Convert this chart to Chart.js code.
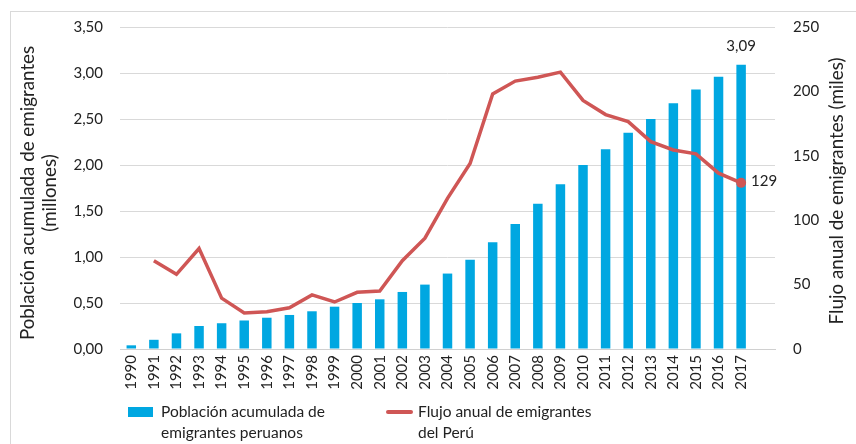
<!DOCTYPE html>
<html>
<head>
<meta charset="utf-8">
<script src="https://cdn.jsdelivr.net/npm/chart.js@4/dist/chart.umd.min.js"></script>
<style>
  html, body { margin: 0; padding: 0; background: #ffffff; }
  #wrap { position: relative; width: 856px; height: 444px; overflow: hidden; font-family: Lato, "Open Sans", sans-serif; }
  canvas { position: absolute; left: 0; top: 0; }
  .leg { position: absolute; font-size: 15.5px; line-height: 21px; color: #222; }
  .sw { position: absolute; }
</style>
</head>
<body>
<div id="wrap">
  <canvas id="c" width="856" height="444"></canvas>
  <div class="sw" id="swBar" style="left:128px; top:407px; width:25px; height:10px; background:#00A7E1;"></div>
  <div class="leg" id="legBar" style="left:161px; top:401px;"></div>
  <div class="sw" id="swLine" style="left:386px; top:410px; width:27px; height:4px; border-radius:2px; background:#CF5655;"></div>
  <div class="leg" id="legLine" style="left:418px; top:401px;"></div>
</div>
<script>
// ---- Data ----
const years = ['1990','1991','1992','1993','1994','1995','1996','1997','1998','1999','2000','2001','2002','2003','2004','2005','2006','2007','2008','2009','2010','2011','2012','2013','2014','2015','2016','2017',''];
const poblacionAcumulada = [0.04,0.10,0.17,0.25,0.28,0.31,0.34,0.37,0.41,0.46,0.50,0.54,0.62,0.70,0.82,0.97,1.16,1.36,1.58,1.79,2.00,2.17,2.35,2.50,2.67,2.82,2.96,3.09,null];
const flujoAnual = [null,68.5,58,78,39.5,28,29,32,42,36.5,44,45,68.5,86,117,144,198,208,211,215,193,182,176.5,161,154.5,151.5,136.5,129,null];
const leftTicks = [0,0.5,1,1.5,2,2.5,3,3.5];
const rightTicks = [0,50,100,150,200,250];
const barLabel = ['Población acumulada de', 'emigrantes peruanos'];
const lineLabel = ['Flujo anual de emigrantes', 'del Perú'];
const leftTitle = ['Población acumulada de emigrantes', '(millones)'];
const rightTitle = 'Flujo anual de emigrantes (miles)';
const lastBarText = '3,09';
const lastLineText = '129';

// ---- Legend (HTML text) ----
document.getElementById('legBar').innerHTML = barLabel.join('<br>');
document.getElementById('legLine').innerHTML = lineLabel.join('<br>');

const FONT = 'Lato, "Open Sans", sans-serif';
const TXT = '#222222';
const BAR = '#00A7E1';
const LINE = '#CF5655';
const lastIdx = 27;

const extras = {
  id: 'extras',
  beforeDraw(chart) {
    const ctx = chart.ctx;
    ctx.save();
    ctx.strokeStyle = '#d9d9d9';
    ctx.lineWidth = 1;
    ctx.strokeRect(10.5, 11.5, 900, 500);
    ctx.restore();
  },
  afterDraw(chart) {
    const ctx = chart.ctx;
    const a = chart.chartArea;
    const cy = (a.top + a.bottom) / 2 + 5;
    ctx.save();
    ctx.fillStyle = TXT;
    ctx.font = '18.8px ' + FONT;
    ctx.textAlign = 'center';
    ctx.textBaseline = 'middle';
    // left title
    ctx.save();
    ctx.translate(28, cy);
    ctx.rotate(-Math.PI / 2);
    ctx.fillText(leftTitle[0], 0, 0);
    ctx.fillText(leftTitle[1], 0, 22);
    ctx.restore();
    // right title
    ctx.save();
    ctx.translate(837, cy - 2);
    ctx.rotate(-Math.PI / 2);
    ctx.fillText(rightTitle, 0, 0);
    ctx.restore();
    // data labels
    ctx.font = '15px ' + FONT;
    const bm = chart.getDatasetMeta(0).data[lastIdx];
    ctx.fillText(lastBarText, bm.x, bm.y - 19);
    const lm = chart.getDatasetMeta(1).data[lastIdx];
    ctx.textAlign = 'left';
    ctx.fillText(lastLineText, lm.x + 10, lm.y - 2);
    ctx.restore();
  }
};

new Chart(document.getElementById('c'), {
  data: {
    labels: years,
    datasets: [
      {
        type: 'bar',
        label: barLabel.join(' '),
        data: poblacionAcumulada,
        backgroundColor: BAR,
        yAxisID: 'y',
        categoryPercentage: 1,
        barPercentage: 0.42,
        order: 2
      },
      {
        type: 'line',
        label: lineLabel.join(' '),
        data: flujoAnual,
        borderColor: LINE,
        backgroundColor: LINE,
        borderWidth: 3.5,
        tension: 0,
        yAxisID: 'y1',
        pointRadius: c => c.dataIndex === lastIdx ? 5 : 0,
        pointBorderWidth: 0,
        order: 1
      }
    ]
  },
  options: {
    responsive: false,
    animation: false,
    layout: { padding: { top: 27, left: 0, right: 0, bottom: 0 } },
    plugins: { legend: { display: false }, tooltip: { enabled: false } },
    scales: {
      x: {
        offset: true,
        grid: { display: false, drawTicks: false },
        border: { color: '#d0d0d0', width: 1 },
        ticks: { color: TXT, font: { family: FONT, size: 15 }, minRotation: 90, maxRotation: 90, padding: 6, autoSkip: false },
        afterFit(s) { s.height = 95; }
      },
      y: {
        position: 'left',
        min: 0, max: 3.5,
        afterBuildTicks(s) { s.ticks = leftTicks.map(v => ({ value: v })); },
        grid: { color: '#d9d9d9', drawTicks: false },
        border: { display: false },
        ticks: { color: TXT, font: { family: FONT, size: 15 }, padding: 17, callback: v => v.toFixed(2).replace('.', ',') },
        afterFit(s) { s.width = 120; }
      },
      y1: {
        position: 'right',
        min: 0, max: 250,
        afterBuildTicks(s) { s.ticks = rightTicks.map(v => ({ value: v })); },
        grid: { display: false, drawTicks: false },
        border: { display: false },
        ticks: { color: TXT, font: { family: FONT, size: 15 }, padding: 18 },
        afterFit(s) { s.width = 81; }
      }
    }
  },
  plugins: [extras]
});
</script>
</body>
</html>
